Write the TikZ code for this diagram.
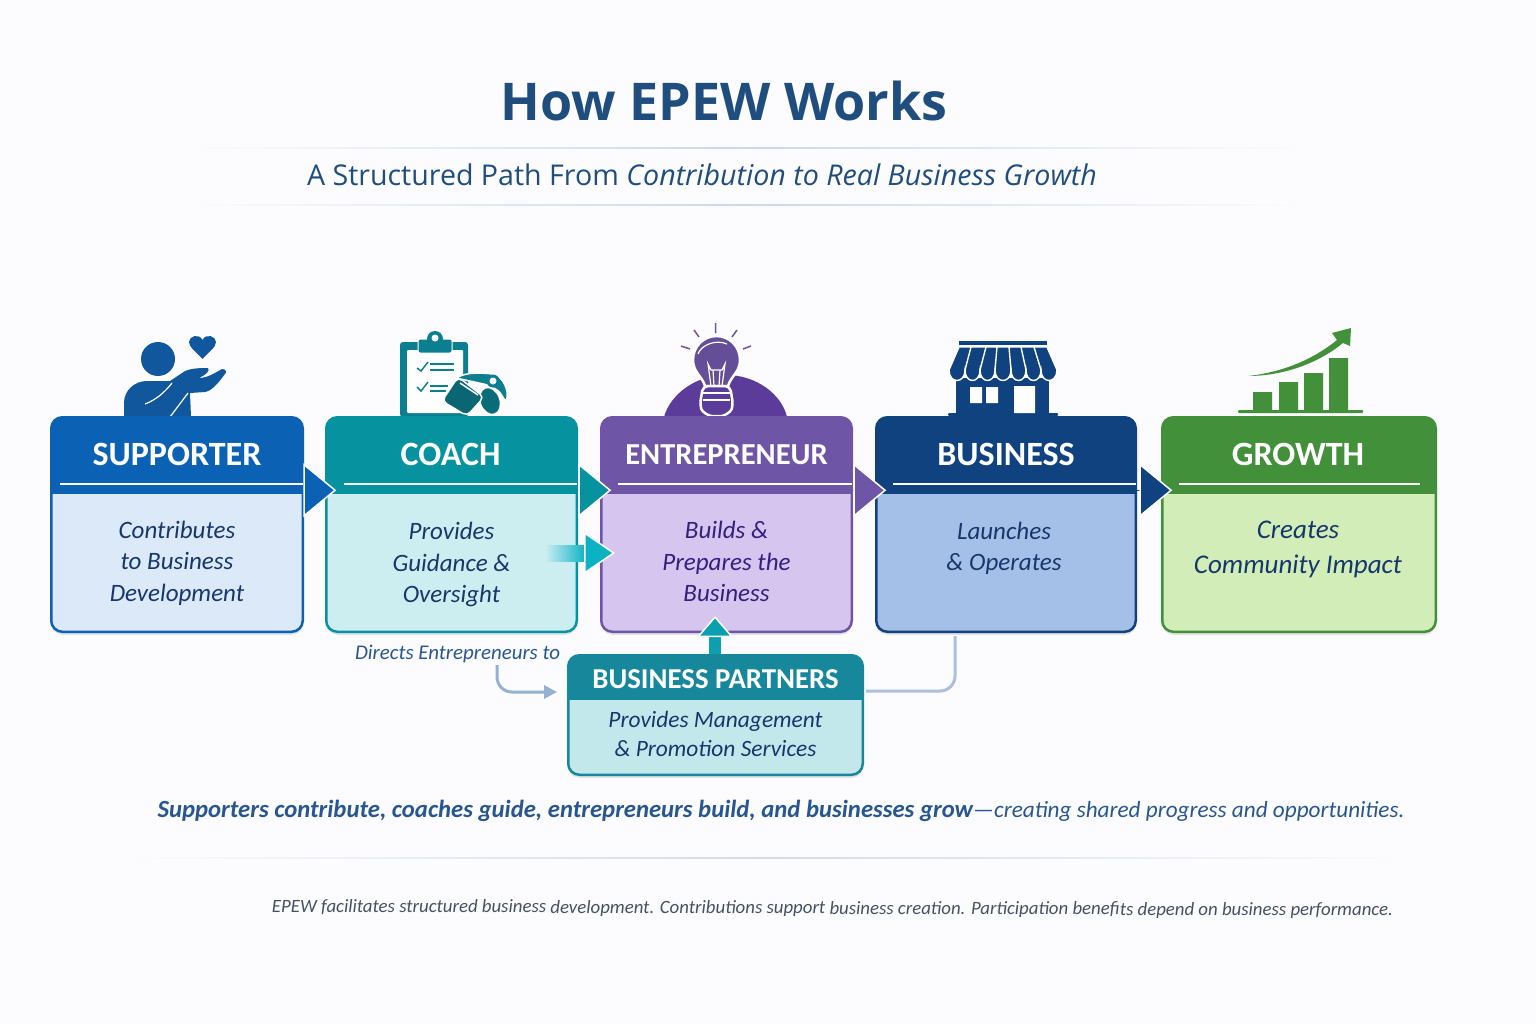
\documentclass[tikz,border=0pt]{standalone}
\usepackage{fontspec}
\usepackage{xcolor}
\usepackage{tikz}
\usetikzlibrary{arrows.meta,positioning,calc,shadows}
\setmainfont{Carlito}
\newfontfamily\headfont{Open Sans}
\definecolor{pagebg}{HTML}{FCFBFE}
\definecolor{titleblue}{HTML}{1F4E7E}
\definecolor{notenavy}{HTML}{17376C}
\definecolor{supicon}{HTML}{11579E}
\definecolor{supdark}{HTML}{0B62B4}
\definecolor{suplight}{HTML}{DCE9F9}
\definecolor{coachicon}{HTML}{0B7F8F}
\definecolor{coachdark}{HTML}{07929F}
\definecolor{coachlight}{HTML}{CDEEF0}
\definecolor{enticon}{HTML}{5C3C9A}
\definecolor{entdark}{HTML}{6E55A5}
\definecolor{entlight}{HTML}{D6C5EF}
\definecolor{entnavy}{HTML}{341F7F}
\definecolor{bizdark}{HTML}{0F427F}
\definecolor{bizlight}{HTML}{A5C0E8}
\definecolor{growthdark}{HTML}{43903A}
\definecolor{growthlight}{HTML}{D2EDB8}
\definecolor{partnerdark}{HTML}{17879B}
\definecolor{partnerlight}{HTML}{C3E8EC}
\definecolor{softlink}{HTML}{93B1D3}
\definecolor{flowcyan}{HTML}{0BB2C4}
\definecolor{closeblue}{HTML}{28578F}
\definecolor{footgrey}{HTML}{465262}
\tikzset{
  stagecard/.style n args={3}{draw=#1,fill=#2,line width=2.5pt,rounded corners=11pt,outer sep=0pt,
    minimum width=#3,minimum height=214.5pt,drop shadow={shadow xshift=0pt,shadow yshift=-3pt,opacity=.10,fill=black},
    path picture={\fill[#1,sharp corners] (path picture bounding box.north west) rectangle ([yshift=-76.5pt]path picture bounding box.north east);}},
  stagetitle/.style={text=white,font=\fontsize{34}{34}\selectfont\bfseries},
  stagenote/.style={text=notenavy,align=center,font=\fontsize{25}{31.5}\selectfont\itshape},
  stagerule/.style={draw=white,line width=1.5pt},
  stageflow/.style={draw=#1,line width=1pt,shorten >=-10pt,-{Triangle[length=33pt,width=54pt,fill=#1,color=white,line width=1.5pt]}},
  softline/.style={draw=softlink,line width=3pt,rounded corners=15pt},
}
\begin{document}
\begin{tikzpicture}[x=1pt,y=-1pt,>=Latex,node distance=24.5pt]
\useasboundingbox[fill=pagebg] (0,0) rectangle (1536,1024);
% heading
\node[text=titleblue,font=\headfont\fontsize{52}{52}\selectfont\bfseries] (heading) at (724,101) {How EPEW Works};
\node[text=titleblue,font=\headfont\fontsize{28.6}{28.6}\selectfont] (subheading) at (702,175) {A Structured Path From \textit{Contribution to Real Business Growth}};
\shade[left color=pagebg,right color=pagebg,middle color=titleblue!22] (190,147.5) rectangle (1300,148.5);
\shade[left color=pagebg,right color=pagebg,middle color=titleblue!22] (190,204.5) rectangle (1300,205.5);
% supporter icon
\fill[supicon] (158,359) circle (17);
\fill[supicon] (124,417) -- (124,403) .. controls (124,390) and (135,381) .. (147,381) -- (170,381) -- (185,371) .. controls (192,368) and (202,368) .. (208,368) .. controls (210,371) and (207,374) .. (199,378) .. controls (207,378) and (215,373) .. (222,369) .. controls (226,369) and (227,372) .. (225,374) .. controls (219,382) and (212,391) .. (205,392) -- (190,393) -- (191,417) -- cycle;
\draw[white,line width=1.2pt] (145,404) .. controls (156,400) and (165,392) .. (172,383);
\draw[white,line width=1.2pt] (170,417) -- (188,393);
\fill[supicon] (202.5,359) .. controls (196,352) and (189,347) .. (189,342) .. controls (189,336) and (199,333) .. (202.5,340) .. controls (206,333) and (216,336) .. (216,342) .. controls (216,347) and (209,352) .. (202.5,359) -- cycle;
% coach icon
\fill[coachicon,rounded corners=3pt] (400,342) rectangle (468,417);
\fill[white,rounded corners=1pt] (407,350) rectangle (463,413);
\draw[white,fill=coachicon,line width=1pt,rounded corners=2pt] (418,339) rectangle (452,353);
\fill[coachicon] (435,339) circle (8);
\fill[white] (435,338) circle (3.5);
\draw[coachicon,line width=1.5pt] (417,368) -- (421,371) -- (428,362);
\draw[coachicon,line width=1.5pt] (417,387) -- (421,391) -- (428,382);
\draw[coachicon,line width=1.5pt] (430,364) -- (454,364) (430,370) -- (454,370) (430,386) -- (448,386) (430,391) -- (446,391);
\draw[white,fill=coachicon,line width=1.5pt,rounded corners=3pt] (456,378) .. controls (468,372) and (482,373) .. (493,374) .. controls (503,378) and (509,390) .. (506,402) -- (499,391) -- (488,385) -- cycle;
\draw[white,fill=coachicon!85!black,line width=1.5pt,rotate around={20:(490,401)}] (490,401) ellipse (10 and 14);
\fill[coachicon] (493,381) circle (6.5);
\fill[white] (493,381) circle (3.5);
\draw[white,fill=coachicon!80!black,line width=1.5pt,rounded corners=5pt] (458,377) -- (484,397) -- (467,416) -- (442,401) -- cycle;
\draw[white,line width=1.5pt] (460,383) -- (478,395);
% entrepreneur icon
\fill[enticon] (664,417) .. controls (670,395) and (695,375) .. (726,375) .. controls (757,375) and (782,395) .. (787,417) -- cycle;
\draw[white,fill=entdark!92!black,line width=2.5pt] (705,386) .. controls (702,376) and (693,372) .. (693,360) .. controls (693,346) and (704,336) .. (716.5,336) .. controls (729,336) and (740,346) .. (740,360) .. controls (740,372) and (731,376) .. (728,386) -- cycle;
\draw[white,fill=enticon,line width=2.5pt,rounded corners=5pt] (703,386) -- (730,386) -- (733,404) .. controls (731,412) and (724,416) .. (716.5,416) .. controls (709,416) and (702,412) .. (700,404) -- cycle;
\draw[white,line width=1.5pt] (703,393) -- (730,393) (703,400) -- (730,400);
\draw[white,line width=1.2pt] (698,354) .. controls (701,345) and (716,339) .. (727,344);
\draw[white,line width=1.2pt] (711,386) -- (708,364) -- (711,370) -- (722,370) -- (725,364) -- (722,386) (714,386) -- (713,370) (719,386) -- (720,370);
\draw[entdark,line width=1.5pt] (715.5,323) -- (715.5,333) (694,330) -- (699,337) (737,330) -- (732,337) (681,346) -- (690,349) (751,346) -- (743,349);
% business icon
\fill[bizdark] (959,341) rectangle (1047,345);
\fill[bizdark] (956,378) rectangle (1049,415);
\fill[bizdark,rounded corners=1pt] (948,413) rectangle (1058,416);
\draw[white,fill=bizdark,line width=1.4pt] (959,347) -- (1047,347) -- (1057,370) .. controls (1057,384) and (1041,384) .. (1041,370) .. controls (1041,384) and (1026,384) .. (1026,370) .. controls (1026,384) and (1011,384) .. (1011,370) .. controls (1011,384) and (995,384) .. (995,370) .. controls (995,384) and (980,384) .. (980,370) .. controls (980,384) and (965,384) .. (965,370) .. controls (965,384) and (949,384) .. (949,370) -- cycle;
\draw[white,line width=1.4pt] (971,347) -- (965,370) (986,347) -- (980,370) (997,347) -- (995,370) (1009,347) -- (1011,370) (1021,347) -- (1026,370) (1034,347) -- (1041,370);
\fill[white] (970,387) rectangle (982,403) (986,387) rectangle (998,403) (1014,386) rectangle (1035,413);
% growth icon
\fill[growthdark,rounded corners=1pt] (1238,410) rectangle (1363,413);
\fill[growthdark] (1253,392) rectangle (1272,410) (1279,382) rectangle (1298,410) (1304,373) rectangle (1323,410) (1329,358) rectangle (1348,410);
\fill[growthdark] (1248,376) .. controls (1285,372) and (1315,358) .. (1337,340) -- (1332,333) -- (1351,328) -- (1350,346) -- (1343,343) .. controls (1320,362) and (1285,376) .. (1248,376) -- cycle;
% stages
\node[stagecard={supdark}{suplight}{251.5pt}] (sup) at (177,524.5) {};
\node[stagecard={coachdark}{coachlight}{250.5pt},right=23.5pt of sup] (coach) {};
\node[stagecard={entdark}{entlight}{250.5pt},right=of coach] (ent) {};
\node[stagecard={bizdark}{bizlight}{259.5pt},right=of ent] (biz) {};
\node[stagecard={growthdark}{growthlight}{273.5pt},right=26.5pt of biz] (growth) {};
\node[stagetitle] (suptitle) at ([yshift=-37pt]sup.north) {SUPPORTER};
\node[stagetitle] (coachtitle) at ([xshift=-1pt,yshift=-37pt]coach.north) {COACH};
\node[stagetitle,font=\fontsize{30.5}{34}\selectfont\bfseries] (enttitle) at ([yshift=-37pt]ent.north) {ENTREPRENEUR};
\node[stagetitle] (biztitle) at ([yshift=-37pt]biz.north) {BUSINESS};
\node[stagetitle] (growthtitle) at ([xshift=-1pt,yshift=-37pt]growth.north) {GROWTH};
\node[stagenote] (supnote) at ([yshift=-146pt]sup.north) {Contributes\\to Business\\Development};
\node[stagenote] (coachnote) at ([yshift=-147.5pt]coach.north) {Provides\\Guidance \&\\Oversight};
\node[stagenote,text=entnavy] (entnote) at ([yshift=-144.5pt]ent.north) {Builds \&\\Prepares the\\Business};
\node[stagenote] (biznote) at ([xshift=-2pt,yshift=-131pt]biz.north) {Launches\\\& Operates};
\node[stagenote,font=\fontsize{27}{35}\selectfont\itshape] (growthnote) at ([xshift=-1pt,yshift=-132pt]growth.north) {Creates\\Community Impact};
\draw[stagerule] ([xshift=9pt,yshift=-66.5pt]sup.north west) -- ([yshift=-66.5pt]sup.north east);
\draw[stagerule] ([xshift=18pt,yshift=-66.5pt]coach.north west) -- ([yshift=-66.5pt]coach.north east);
\draw[stagerule] ([xshift=17pt,yshift=-66.5pt]ent.north west) -- ([yshift=-66.5pt]ent.north east);
\draw[stagerule] ([xshift=17pt,yshift=-66.5pt]biz.north west) -- ([yshift=-66.5pt]biz.north east);
\draw[stagerule] ([xshift=17pt,yshift=-66.5pt]growth.north west) -- ([xshift=-16pt,yshift=-66.5pt]growth.north east);
\draw[stageflow=supdark] ([yshift=-73pt]sup.north east) -- ([yshift=-73pt]coach.north west);
\draw[stageflow=coachdark] ([yshift=-73pt]coach.north east) -- ([yshift=-73pt]ent.north west);
\draw[stageflow=entdark] ([yshift=-73pt]ent.north east) -- ([yshift=-73pt]biz.north west);
\draw[stageflow=bizdark] ([yshift=-73pt]biz.north east) -- ([yshift=-73pt]growth.north west);
% partners
\node[stagecard={partnerdark}{partnerlight}{294.5pt},minimum height=119.5pt,
  path picture={\fill[partnerdark,sharp corners] (path picture bounding box.north west) rectangle ([yshift=-45pt]path picture bounding box.north east);}] (partners) at (715.5,715) {};
\node[text=white,font=\fontsize{28.8}{28.8}\selectfont\bfseries] (partnertitle) at ([yshift=-24pt]partners.north) {BUSINESS PARTNERS};
\node[stagenote,font=\fontsize{23.4}{29}\selectfont\itshape] (partnernote) at ([yshift=-79pt]partners.north) {Provides Management\\\& Promotion Services};
% links
\coordinate (flowstart) at (585,553);
\coordinate (flowtip) at (615,553);
\shade[left color=coachlight,right color=flowcyan] (545,545) rectangle (586,561);
\draw[draw=flowcyan,-{Triangle[length=31pt,width=42pt,fill=flowcyan,color=white,line width=1.5pt]}] (flowstart) -- (flowtip);
\coordinate (partnerout) at (715,654);
\coordinate (entin) at (715,616);
\draw[draw=flowcyan!90!black,line width=12pt,-{Triangle[length=21pt,width=36pt,fill=flowcyan!90!black,color=white,line width=1.5pt,sep=0pt]}] (partnerout) -- (entin);
\node[text=closeblue,font=\fontsize{20.9}{20.9}\selectfont\itshape] (directs) at (457.5,654) {Directs Entrepreneurs to};
\coordinate (dirout) at (497,665);
\coordinate (dirin) at (557,692);
\draw[softline,-{Triangle[length=13pt,width=13pt]}] (dirout) |- (dirin);
\coordinate (bizout) at (955,636);
\coordinate (partnerin) at (866,691);
\draw[softline,draw=softlink!80!white] (bizout) |- (partnerin);
% closing text
\node[text=closeblue,font=\fontsize{24.7}{27}\selectfont\itshape] (closing) at (781,810.5) {\textbf{Supporters contribute, coaches guide, entrepreneurs build, and businesses grow}{\fontsize{23.2}{27}\selectfont—creating shared progress and opportunities.}};
\shade[left color=pagebg,right color=pagebg,middle color=titleblue!20] (130,857.5) rectangle (1400,858.5);
\node[text=footgrey,font=\fontsize{18.8}{21.5}\selectfont\itshape,rotate=-0.2] (disclaimer) at (832.5,909) {EPEW facilitates structured business development. Contributions support business creation. Participation benefits depend on business performance.};
\end{tikzpicture}
\end{document}
